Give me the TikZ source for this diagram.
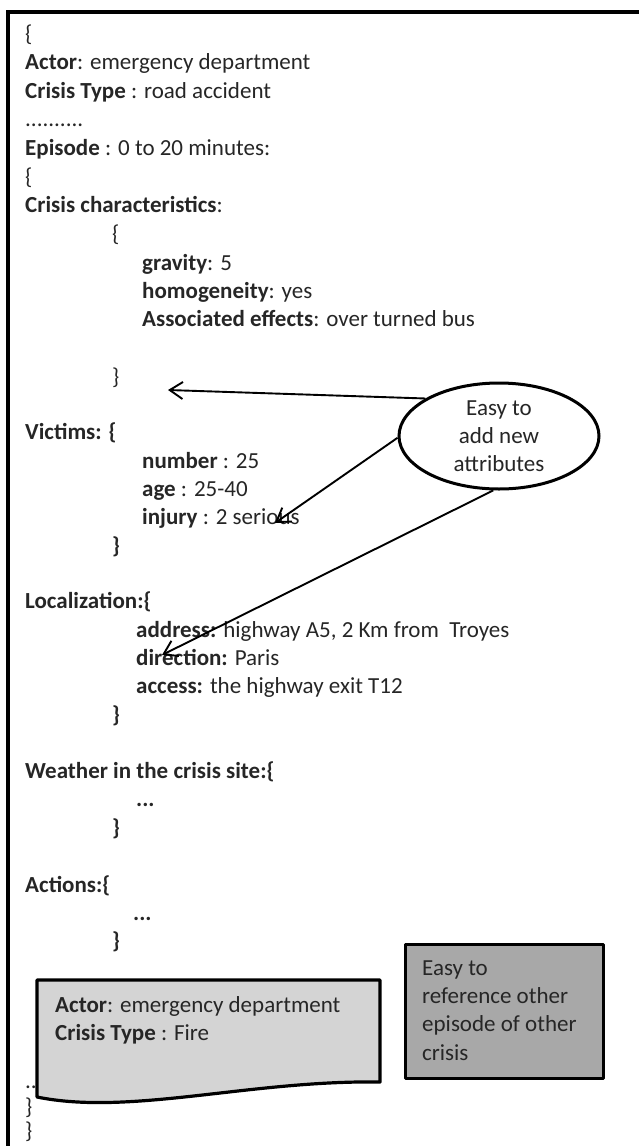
\documentclass[tikz,border=0pt]{standalone}
\usepackage{fontspec}
\setmainfont{Carlito}
\usetikzlibrary{shapes.geometric,arrows.meta}
\definecolor{ink}{HTML}{262626}
\definecolor{docgray}{HTML}{D4D4D4}
\definecolor{boxgray}{HTML}{A8A8A8}
\begin{document}
\begin{tikzpicture}[x=1pt,y=-1pt,
  txt/.style={anchor=base west, inner sep=0pt, text=ink,
              font=\fontsize{23}{28}\selectfont},
  frameline/.style={line width=4pt, black},
  conn/.style={line width=1.9pt, black,
               -{Straight Barb[length=13pt,width=17pt]}},
  bubble/.style={ellipse, draw=black, line width=3pt, fill=white,
                 minimum width=200pt, minimum height=106pt, inner sep=0pt,
                 align=center, text=ink,
                 font=\fontsize{23}{28}\selectfont},
  shade/.style={draw=black, line width=3.2pt, line join=round}]
\useasboundingbox (0,0) rectangle (639,1146);

% outer frame (top and left edges)
\coordinate (ftl) at (8,12);
\coordinate (ftr) at (639,12);
\coordinate (fbl) at (8,1146);
\draw[frameline] (ftr) -- (ftl) -- (fbl);

% record text
\node[txt] (l0)  at (25,41)   {\{};
\node[txt] (l1)  at (25,69)   {\textbf{Actor}: emergency department};
\node[txt] (l2)  at (25,98)   {\textbf{Crisis Type} : road accident};
\node[txt] (l3)  at (25,126)  {..........};
\node[txt] (l4)  at (25,155)  {\textbf{Episode} : 0 to 20 minutes:};
\node[txt] (l5)  at (25,184)  {\{};
\node[txt] (l6)  at (25,212)  {\textbf{Crisis characteristics}:};
\node[txt] (l7)  at (112,241) {\{};
\node[txt] (l8)  at (142,270) {\textbf{gravity}: 5};
\node[txt] (l9)  at (142,298) {\textbf{homogeneity}: yes};
\node[txt] (l10) at (142,326) {\textbf{Associated effects}: over turned bus};
\node[txt] (l11) at (112,384) {\}};
\node[txt] (l12) at (25,439)  {\textbf{Victims: \{}};
\node[txt] (l13) at (142,468) {\textbf{number} : 25};
\node[txt] (l14) at (142,496) {\textbf{age} : 25-40};
\node[txt] (l15) at (142,524) {\textbf{injury} : 2 serious};
\node[txt] (l16) at (112,553) {\textbf{\}}};
\node[txt] (l17) at (25,608)  {\textbf{Localization:\{}};
\node[txt] (l18) at (136,637) {\textbf{address:} highway A5, 2 Km from\ \ Troyes};
\node[txt] (l19) at (136,665) {\textbf{direction:} Paris};
\node[txt] (l20) at (136,693) {\textbf{access:} the highway exit T12};
\node[txt] (l21) at (112,722) {\textbf{\}}};
\node[txt] (l22) at (25,778)  {\textbf{Weather in the crisis site:\{}};
\node[txt] (l23) at (136,806) {\textbf{...}};
\node[txt] (l24) at (112,835) {\textbf{\}}};
\node[txt] (l25) at (25,892)  {\textbf{Actions:\{}};
\node[txt] (l26) at (133,920) {\textbf{...}};
\node[txt] (l27) at (112,948) {\textbf{\}}};
\node[txt] (l28) at (25,1088) {.........};
\node[txt] (l29) at (25,1114) {\}};
\node[txt] (l30) at (25,1138) {\}};

% callout bubble and its arrows
\node[bubble] (ell) at (499,436) {Easy to\\add new\\attributes};
\coordinate (t1) at (168,390);
\coordinate (t2) at (275,523);
\coordinate (t3) at (162,655);
\draw[conn] (ell.153) -- (t1);
\draw[conn] (ell.181) -- (t2);
\draw[conn] (ell.264) -- (t3);

% referenced record (document shape)
\coordinate (d1) at (37,980);
\coordinate (d2) at (380,980);
\coordinate (d3) at (380,1082);
\coordinate (d4) at (37,1097);
\filldraw[shade, fill=docgray] (d1) -- (d2) -- (d3)
   .. controls (250,1080) and (130,1116) .. (d4) -- cycle;
\node[txt] (r1) at (55,1012) {\textbf{Actor}: emergency department};
\node[txt] (r2) at (55,1040) {\textbf{Crisis Type} : Fire};

% side note box
\node[shade, fill=boxgray, rectangle, minimum width=198pt, minimum height=134pt,
      inner sep=0pt, anchor=north west] (note) at (404,943) {};
\node[txt] (n1) at (422,975)  {Easy to};
\node[txt] (n2) at (422,1003) {reference other};
\node[txt] (n3) at (422,1031) {episode of other};
\node[txt] (n4) at (422,1060) {crisis};
\end{tikzpicture}
\end{document}
